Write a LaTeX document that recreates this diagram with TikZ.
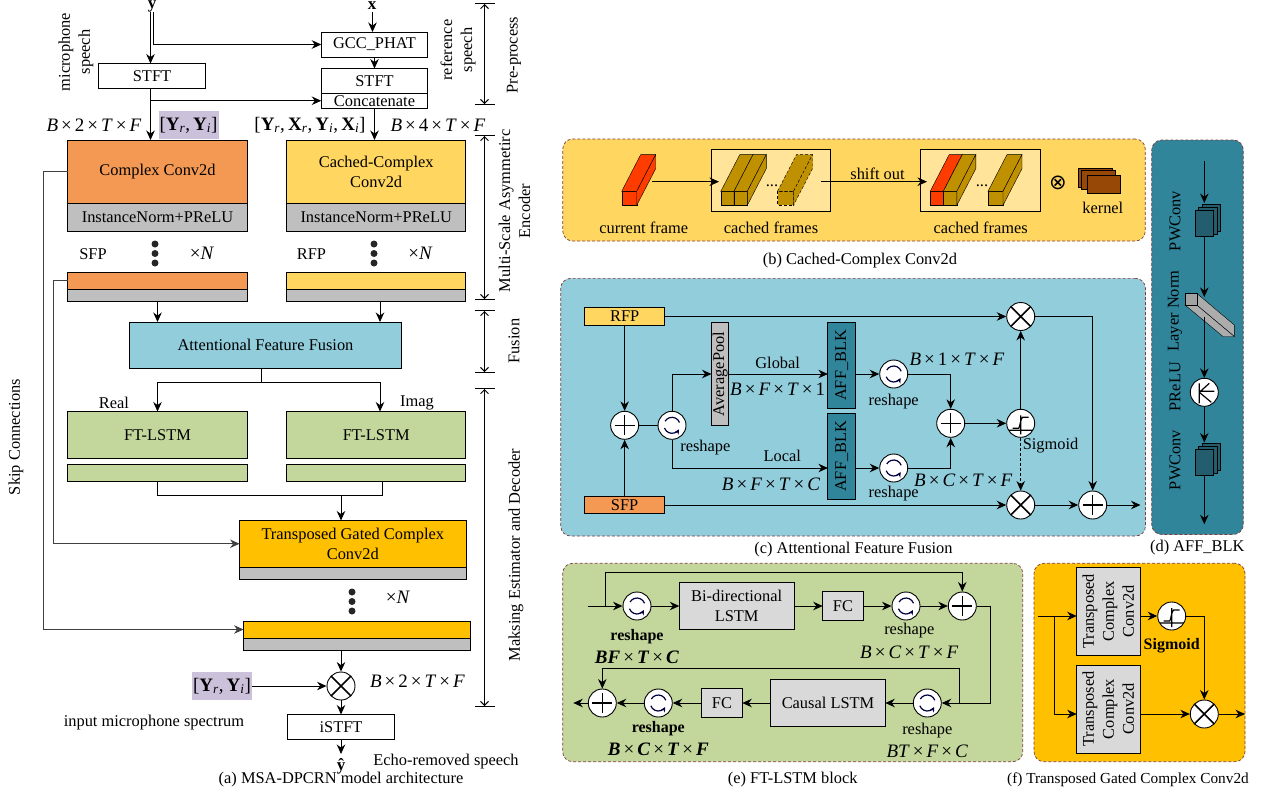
\documentclass[tikz,border=0pt]{standalone}
\usepackage{fontspec}
\setmainfont{Liberation Serif}
\newfontfamily\symfont{DejaVu Sans}
\definecolor{convorange}{RGB}{244,153,83}
\definecolor{convyellow}{RGB}{255,214,96}
\definecolor{convgold}{RGB}{255,192,0}
\definecolor{normgray}{RGB}{191,191,191}
\definecolor{lightgray}{RGB}{217,217,217}
\definecolor{fusionblue}{RGB}{146,205,220}
\definecolor{lstmgreen}{RGB}{195,214,155}
\definecolor{lavender}{RGB}{204,193,218}
\definecolor{aimteal}{RGB}{49,133,155}
\definecolor{deepteal}{RGB}{36,94,110}
\definecolor{cachepale}{RGB}{255,228,153}
\definecolor{cubegold}{RGB}{191,144,0}
\definecolor{cubered}{RGB}{255,60,0}
\definecolor{kernelbrown}{RGB}{151,72,7}
\definecolor{borderred}{RGB}{125,60,60}
\usetikzlibrary{arrows.meta}

\newcommand{\tm}{\hspace{.16em}×\hspace{.16em}}
\newcommand{\iv}[1]{\textit{#1}}
\newcommand{\bv}[2]{\textbf{#1}\textsubscript{\textit{#2}}}
\newcommand{\bi}[1]{\textbf{\textit{#1}}}
% one slanted frame: x, y of the front top left corner, width, colour
\newcommand{\framecube}[5][solid]{
  \filldraw[draw=black, fill=#5, #1] (#2,#3) rectangle ++(#4,14);
  \filldraw[draw=black, fill=#5, #1] (#2,#3) -- ++(19,-36.7) -- ++(#4,0) -- ++(-19,36.7) -- cycle;
  \filldraw[draw=black, fill=#5, #1] (#2+#4,#3) -- ++(19,-36.7) -- ++(0,14) -- ++(-19,36.7) -- cycle;
}
% pile of three feature maps behind a named front node
\newcommand{\mapstack}[2]{
  \filldraw[draw=black, fill=deepteal] (#1+6.7-9.2,#2-6-13.2) rectangle ++(18.4,26.4);
  \filldraw[draw=black, fill=deepteal] (#1+3.3-9.2,#2-3-13.2) rectangle ++(18.4,26.4);
}

\begin{document}
\begin{tikzpicture}[
  x=1pt, y=-1pt,
  font=\fontsize{16.4}{20}\selectfont,
  arrow/.style={-{Stealth[length=9.5pt,width=8.5pt]}, line width=.9pt},
  plain/.style={line width=.9pt},
  span/.style={{Bar[width=20pt]Straight Barb[length=4pt]}-{Straight Barb[length=4pt]Bar[width=20pt]}, line width=1pt},
  blockbox/.style={draw=black, line width=.9pt, inner sep=0pt, outer sep=0pt, align=center},
  wbox/.style={blockbox, fill=white, minimum width=106.5pt, minimum height=25pt},
  panel/.style={draw=borderred, densely dashed, line width=.7pt, rounded corners=10pt, inner sep=0pt},
  lbl/.style={inner sep=0pt, align=center},
  biglbl/.style={lbl, font=\fontsize{19}{22}\selectfont},
  spec/.style={biglbl, fill=lavender, minimum width=60pt, minimum height=27.5pt},
  vdot/.style={circle, fill=black!85, minimum size=7pt, inner sep=0pt},
  opcirc/.style={circle, draw=black, fill=white, line width=.9pt, minimum size=28pt, inner sep=0pt},
  plusop/.style={opcirc, path picture={\draw[shift={(path picture bounding box.center)}, line width=1.4pt] (-10,0) -- (10,0) (0,-10) -- (0,10);}},
  timesop/.style={opcirc, path picture={\draw[shift={(path picture bounding box.center)}, line width=1.6pt] (-10,-10) -- (10,10) (-10,10) -- (10,-10);}},
  shapeop/.style={opcirc, path picture={\draw[shift={(path picture bounding box.center)}, -{Stealth[length=5pt,width=5pt]}, line width=1.2pt, black!75!blue]
    (-20:8) arc[start angle=-20, delta angle=-130, radius=8]
    (160:8) arc[start angle=160, delta angle=-130, radius=8];}},
  sigop/.style={opcirc, path picture={\draw[shift={(path picture bounding box.center)}, line width=1.2pt]
    (-14,7) -- (14,7) (0,11) -- (0,-8) (-8,5) -- (-2,5) .. controls (-1,5) and (0,-6) .. (2,-6) -- (8,-6);}},
  preluop/.style={opcirc, path picture={\draw[shift={(path picture bounding box.center)}, line width=1.2pt]
    (-5,-9) -- (-5,11) (-5,-1) -- (10,-1) (-5,0) -- (5,-9) (-5,0) -- (7,10);}},
  ]
\useasboundingbox (0,0) rectangle (1262,796);

% (a) model
\node[lbl, font=\fontsize{17}{20}\selectfont\bfseries] (ymic) at (152,6.5) {y};
\node[lbl, font=\fontsize{17}{20}\selectfont\bfseries] (xref) at (372,5.5) {x};
\coordinate (ymicl) at (150.5,12);
\coordinate (ymicr) at (153.5,12);
\coordinate (xtop) at (372.5,12);
\node[wbox] (gcc) at (374.5,44.5) {GCC\_PHAT};
\node[wbox] (refstft) at (374.5,81) {STFT};
\node[wbox, minimum height=14.5pt] (concat) at (374.5,100.75) {Concatenate};
\node[wbox] (micstft) at (152,76) {STFT};
\node[lbl, rotate=90] (micspeech) at (76,52) {microphone\\speech};
\node[lbl, rotate=90] (refspeech) at (458,50) {reference\\speech};

\node[biglbl] (dimyin) at (94,125) {\iv{B}\tm2\tm\iv{T}\tm\iv{F}};
\node[spec] (yspec) at (188.5,125) {[\bv{Y}{r},\,\bv{Y}{i}]};
\node[biglbl] (yxspec) at (310,125) {[\bv{Y}{r},\,\bv{X}{r},\,\bv{Y}{i},\,\bv{X}{i}]};
\node[biglbl] (dimyx) at (438,125) {\iv{B}\tm4\tm\iv{T}\tm\iv{F}};

\node[blockbox, fill=convorange, minimum width=179.4pt, minimum height=63pt] (cplx) at (157.5,171.5) {Complex Conv2d};
\node[blockbox, fill=normgray, minimum width=179.4pt, minimum height=28pt] (cplxnorm) at (157.5,217) {InstanceNorm+PReLU};
\node[blockbox, fill=convyellow, minimum width=179.4pt, minimum height=63pt] (cached) at (376.2,171.5) {Cached-Complex\\Conv2d};
\node[blockbox, fill=normgray, minimum width=179.4pt, minimum height=28pt] (cachednorm) at (376.2,217) {InstanceNorm+PReLU};

\node[vdot] (da1) at (155,244) {};
\node[vdot] (da2) at (155,253.5) {};
\node[vdot] (da3) at (155,263) {};
\node[vdot] (db1) at (374,244) {};
\node[vdot] (db2) at (374,253.5) {};
\node[vdot] (db3) at (374,263) {};
\node[lbl] (sfplab) at (93,254) {SFP};
\node[lbl] (rfplab) at (311.5,254) {RFP};
\node[biglbl] (na) at (202,253) {×\iv{N}};
\node[biglbl] (nb) at (420.5,253) {×\iv{N}};

\node[blockbox, fill=convorange, minimum width=179.4pt, minimum height=17pt] (sfpbar) at (157.5,280.5) {};
\node[blockbox, fill=normgray, minimum width=179.4pt, minimum height=12pt] (sfpnorm) at (157.5,295) {};
\node[blockbox, fill=convyellow, minimum width=179.4pt, minimum height=17pt] (rfpbar) at (376.2,280.5) {};
\node[blockbox, fill=normgray, minimum width=179.4pt, minimum height=12pt] (rfpnorm) at (376.2,295) {};

\node[blockbox, fill=fusionblue, minimum width=272.5pt, minimum height=46.5pt] (fusion) at (265.5,345.25) {Attentional Feature Fusion};
\node[lbl] (reallab) at (114,403) {Real};
\node[lbl] (imaglab) at (417,403) {Imag};
\node[blockbox, fill=lstmgreen, minimum width=179.4pt, minimum height=47pt] (lstma) at (157.5,435) {FT-LSTM};
\node[blockbox, fill=lstmgreen, minimum width=179.4pt, minimum height=47pt] (lstmb) at (376.2,435) {FT-LSTM};
\node[blockbox, fill=lstmgreen, minimum width=179.4pt, minimum height=17pt] (lstmabar) at (157.5,473) {};
\node[blockbox, fill=lstmgreen, minimum width=179.4pt, minimum height=17pt] (lstmbbar) at (376.2,473) {};

\node[blockbox, fill=convgold, minimum width=226.5pt, minimum height=46.5pt] (tgcc) at (352.8,543.75) {Transposed Gated Complex\\Conv2d};
\node[blockbox, fill=normgray, minimum width=226.5pt, minimum height=12pt] (tgccnorm) at (352.8,573) {};
\node[vdot] (dc1) at (352,592) {};
\node[vdot] (dc2) at (352,601.5) {};
\node[vdot] (dc3) at (352,611) {};
\node[biglbl] (nc) at (398,597) {×\iv{N}};
\node[blockbox, fill=convgold, minimum width=226.5pt, minimum height=17pt] (decbar) at (356.8,629.5) {};
\node[blockbox, fill=normgray, minimum width=226.5pt, minimum height=12pt] (decnorm) at (356.8,644) {};

\node[timesop] (mask) at (341,686) {};
\node[spec] (yspecb) at (222,686) {[\bv{Y}{r},\,\bv{Y}{i}]};
\node[biglbl] (dimout) at (417.5,681) {\iv{B}\tm2\tm\iv{T}\tm\iv{F}};
\node[lbl] (inputlab) at (154,723) {input microphone spectrum};
\node[wbox] (istft) at (341,727) {iSTFT};
\node[lbl, font=\fontsize{17}{20}\selectfont\bfseries] (yhat) at (341,766) {ŷ};
\node[lbl] (echolab) at (446,762) {Echo-removed speech};
\node[lbl] (capa) at (341,780) {(a) MSA-DPCRN model architecture};

\draw[arrow] (ymicl) -- (ymicl |- micstft.north);
\draw[arrow] (ymicr) |- (gcc.west);
\draw[arrow] (xtop) -- (xtop |- gcc.north);
\draw[arrow] (gcc.south) -- (refstft.north);
\coordinate (micdown) at (150.5,88.5);
\draw[arrow] (micdown) -- (micdown |- cplx.north);
\coordinate (micbr) at (150.5,100.75);
\draw[arrow] (micbr) -- (concat.west);
\draw[arrow] (concat.south) -- (concat.south |- cached.north);
\coordinate (skipa) at (43.4,629.5);
\coordinate (skipb) at (53,543.75);
\draw[plain, black!75] (cplx.west) -| (skipa);
\draw[arrow, black!75] (skipa) -- (decbar.west);
\draw[plain, black!75] (sfpbar.west) -| (skipb);
\draw[arrow, black!75] (skipb) -- (tgcc.west);
\node[lbl, rotate=90] (skiplab) at (16,437) {Skip Connections};
\draw[arrow] (sfpnorm.south) -- (sfpnorm.south |- fusion.north);
\coordinate (rfpdown) at (380,301);
\draw[arrow] (rfpdown) -- (rfpdown |- fusion.north);
\coordinate (fusbr) at (261,382.7);
\draw[plain] (fusbr |- fusion.south) -- (fusbr);
\draw[arrow] (fusbr) -| (lstma.north);
\coordinate (fusbrb) at (380,411.5);
\draw[arrow] (fusbr) -| (fusbrb);
\coordinate (merge) at (341,495.7);
\coordinate (mergeb) at (382,481.5);
\draw[plain] (lstmabar.south) |- (merge);
\draw[plain] (mergeb) |- (merge);
\draw[arrow] (merge) -- (merge |- tgcc.north);
\draw[arrow] (decnorm.south -| mask.north) -- (mask.north);
\draw[arrow] (yspecb.east) -- (mask.west);
\draw[arrow] (mask.south) -- (istft.north);
\coordinate (yout) at (341,754);
\draw[arrow] (istft.south) -- (yout);

% spans on the right
\coordinate (spa) at (484.5,3);
\coordinate (spb) at (484.5,105);
\coordinate (spc) at (484.5,135);
\coordinate (spd) at (484.5,300);
\coordinate (spe) at (484.5,310);
\coordinate (spf) at (484.5,373);
\coordinate (spg) at (484.5,388);
\coordinate (sph) at (484.5,707);
\draw[span] (spa) -- (spb);
\draw[span] (spc) -- (spd);
\draw[span] (spe) -- (spf);
\draw[span] (spg) -- (sph);
\node[lbl, rotate=90] (prelab) at (514,55) {Pre-process};
\node[lbl, rotate=90] (enclab) at (514.5,211) {Multi-Scale Asymmetirc\\Encoder};
\node[lbl, rotate=90] (fuslab) at (514,341) {Fusion};
\node[lbl, rotate=90] (declab) at (516,555) {Maksing Estimator and Decoder};

% (b) cached conv
\node[panel, fill=convyellow, minimum width=582.5pt, minimum height=102pt] (panelb) at (854,190) {};
\node[blockbox, fill=cachepale, minimum width=119.4pt, minimum height=61.7pt] (cachea) at (771,180.2) {};
\node[blockbox, fill=cachepale, minimum width=119.8pt, minimum height=61.7pt] (cacheb) at (980.7,180.2) {};
\framecube{621.7}{191.3}{15}{cubered}
\framecube{720.8}{191.3}{13.3}{cubegold}
\framecube{734}{191.3}{13.3}{cubegold}
\framecube[densely dashed]{777.5}{191.3}{16}{cubegold}
\node[lbl] (dotsa) at (772,186) {...};
\framecube{930.2}{191.3}{13.1}{cubered}
\framecube{943.3}{191.3}{13.5}{cubegold}
\framecube{988}{191.3}{15}{cubegold}
\node[lbl] (dotsb) at (982,186) {...};
\coordinate (curout) at (652,181.7);
\coordinate (cachein) at (719,181.7);
\draw[arrow] (curout) -- (cachein);
\coordinate (shiftout) at (821,181.7);
\coordinate (shiftin) at (927,181.7);
\draw[arrow] (shiftout) -- (shiftin);
\node[lbl] (shiftlab) at (877.5,174) {shift out};
\node[lbl, font=\fontsize{21}{24}\selectfont\symfont] (conv) at (1058,182.5) {⊗};
\filldraw[draw=black, fill=kernelbrown] (1078.4,168.3) rectangle (1112,187);
\filldraw[draw=black, fill=kernelbrown] (1081.5,170.5) rectangle (1115,189);
\filldraw[draw=black, fill=kernelbrown] (1086.7,175) rectangle (1120,193.3);
\node[lbl] (kernlab) at (1102.8,208) {kernel};
\node[lbl] (curlab) at (643.7,228) {current frame};
\node[lbl] (cachelaba) at (771,228) {cached frames};
\node[lbl] (cachelabb) at (980.7,228) {cached frames};
\node[lbl] (capb) at (860,261) {(b) Cached-Complex Conv2d};

% (c) fusion
\node[panel, fill=fusionblue, minimum width=584.8pt, minimum height=257.7pt] (panelc) at (853.1,407.2) {};
\node[blockbox, fill=convyellow, minimum width=80.3pt, minimum height=17.6pt] (rfp) at (624.65,316.5) {RFP};
\node[blockbox, fill=convorange, minimum width=80.3pt, minimum height=17.6pt] (sfp) at (624.65,505) {SFP};
\node[plusop] (addin) at (624.65,425.3) {};
\node[shapeop] (rsc) at (672,425.3) {};
\node[lbl] (rsclab) at (705.4,448) {reshape};
\node[blockbox, fill=normgray, minimum width=17.2pt, minimum height=102.6pt] (avg) at (720.1,374) {};
\node[lbl, rotate=90] (avglab) at (avg.center) {AveragePool};
\node[blockbox, fill=aimteal, minimum width=27.9pt, minimum height=85.3pt] (affa) at (841.85,365.35) {};
\node[lbl, rotate=90] (affalab) at (affa.center) {AFF\_BLK};
\node[blockbox, fill=aimteal, minimum width=27.9pt, minimum height=85.3pt] (affb) at (841.85,456.35) {};
\node[lbl, rotate=90] (affblab) at (affb.center) {AFF\_BLK};
\node[lbl] (globlab) at (777.7,362.7) {Global};
\node[biglbl] (dimg) at (777.7,389) {\iv{B}\tm\iv{F}\tm\iv{T}\tm1};
\node[lbl] (loclab) at (782.3,456) {Local};
\node[biglbl] (diml) at (771,484) {\iv{B}\tm\iv{F}\tm\iv{T}\tm\iv{C}};
\node[shapeop] (rsg) at (893.7,374) {};
\node[shapeop] (rsl) at (893.7,468) {};
\node[lbl] (rsglab) at (893.7,402) {reshape};
\node[lbl] (rsllab) at (893.7,494) {reshape};
\node[biglbl] (dimrg) at (957,359) {\iv{B}\tm1\tm\iv{T}\tm\iv{F}};
\node[biglbl] (dimrl) at (963.3,480.7) {\iv{B}\tm\iv{C}\tm\iv{T}\tm\iv{F}};
\node[plusop] (addmid) at (950.7,423.3) {};
\node[sigop] (sigc) at (1020.7,423.3) {};
\node[lbl] (siglab) at (1050.6,446) {Sigmoid};
\node[timesop] (mula) at (1020.7,316.5) {};
\node[timesop] (mulb) at (1020.7,505) {};
\node[plusop] (addout) at (1092.7,505) {};
\coordinate (affout) at (1140.5,505);
\draw[arrow] (rfp.south) -- (addin.north);
\draw[arrow] (sfp.north) -- (addin.south);
\draw[plain] (addin.east) -- (rsc.west);
\draw[arrow] (rsc.north) |- (avg.west);
\draw[arrow] (rsc.south) |- (affb.west |- rsl);
\draw[arrow] (avg.east) -- (avg.east -| affa.west);
\draw[arrow] (affa.east |- rsg) -- (rsg.west);
\draw[arrow] (affb.east |- rsl) -- (rsl.west);
\draw[arrow] (rsg.east) -| (addmid.north);
\draw[arrow] (rsl.east) -| (addmid.south);
\draw[arrow] (addmid.east) -- (sigc.west);
\draw[arrow] (sigc.north) -- (mula.south);
\draw[arrow, densely dashed] (sigc.south) -- (mulb.north);
\draw[arrow] (rfp.east) -- (mula.west);
\draw[arrow] (sfp.east) -- (mulb.west);
\draw[arrow] (mula.east) -| (addout.north);
\draw[arrow] (mulb.east) -- (addout.west);
\draw[arrow] (addout.east) -- (affout);
\node[lbl] (capc) at (853.5,550) {(c) Attentional Feature Fusion};

% (d) block
\node[panel, fill=aimteal, minimum width=91.6pt, minimum height=394.5pt] (paneld) at (1197.5,337.25) {};
\coordinate (dtop) at (1204.3,161);
\coordinate (dpwin) at (1204.3,203);
\draw[arrow] (dtop) -- (dpwin);
\mapstack{1204.3}{223.5}
\node[blockbox, fill=deepteal, minimum width=18.4pt, minimum height=26.4pt] (pwa) at (1204.3,223.5) {};
\coordinate (lnin) at (1204.3,297);
\coordinate (lnout) at (1204.3,316.7);
\filldraw[draw=black, fill=normgray!90!black] (1196.7,293.3) -- (1234.3,325) -- (1234.3,336.5) -- (1196.7,305) -- cycle;
\filldraw[draw=black, fill=normgray!90!black] (1185,305) -- (1196.7,305) -- (1234.3,336.5) -- (1223,336.5) -- cycle;
\filldraw[draw=black, fill=normgray!85!black] (1185,293.3) rectangle (1196.7,305);
\draw[arrow] (pwa.south) -- (lnin);
\node[preluop] (preluc) at (1204.3,392.3) {};
\draw[arrow] (lnout) -- (preluc.north);
\coordinate (dpwinb) at (1204.3,442.5);
\draw[arrow] (preluc.south) -- (dpwinb);
\mapstack{1204.3}{462.6}
\node[blockbox, fill=deepteal, minimum width=18.4pt, minimum height=26.4pt] (pwb) at (1204.3,462.6) {};
\coordinate (dout) at (1204.3,524.3);
\draw[arrow] (pwb.south) -- (dout);
\node[lbl, rotate=90] (pwalab) at (1175,221) {PWConv};
\node[lbl, rotate=90] (lnlab) at (1175,311) {Layer Norm};
\node[lbl, rotate=90] (prlab) at (1175,386.7) {PReLU};
\node[lbl, rotate=90] (pwblab) at (1175,460) {PWConv};
\node[lbl] (capd) at (1197.3,548) {(d) AFF\_BLK};

% (e) lstm
\node[panel, fill=lstmgreen, minimum width=460pt, minimum height=198.4pt] (panele) at (792.7,662.5) {};
\coordinate (ein) at (587.7,606);
\coordinate (einbr) at (605.7,606);
\coordinate (etop) at (962.3,572.3);
\node[shapeop] (rsea) at (637,606) {};
\node[blockbox, fill=lightgray, minimum width=114.7pt, minimum height=46.7pt] (bilstm) at (736.65,606) {Bi-directional\\LSTM};
\node[blockbox, fill=lightgray, minimum width=40.6pt, minimum height=29.3pt] (fca) at (843,606) {FC};
\node[shapeop] (rseb) at (906,606) {};
\node[plusop] (adde) at (962.3,606) {};
\coordinate (eturn) at (990.7,703);
\coordinate (ebr) at (959,703);
\coordinate (eup) at (602.3,668.3);
\node[shapeop] (rsec) at (927.3,703) {};
\node[blockbox, fill=lightgray, minimum width=114.6pt, minimum height=46.6pt] (causal) at (828,703) {Causal LSTM};
\node[blockbox, fill=lightgray, minimum width=40.6pt, minimum height=29pt] (fcb) at (722,703) {FC};
\node[shapeop] (rsed) at (658.3,703) {};
\node[plusop] (addf) at (602.3,703) {};
\coordinate (eout) at (573.3,703);
\draw[arrow] (ein) -- (rsea.west);
\draw[arrow] (einbr) |- (etop) -- (adde.north);
\draw[arrow] (rsea.east) -- (bilstm.west);
\draw[arrow] (bilstm.east) -- (fca.west);
\draw[arrow] (fca.east) -- (rseb.west);
\draw[arrow] (rseb.east) -- (adde.west);
\draw[arrow] (adde.east) -| (eturn) -- (rsec.east);
\draw[arrow] (ebr) |- (eup) -- (addf.north);
\draw[arrow] (rsec.west) -- (causal.east);
\draw[arrow] (causal.west) -- (fcb.east);
\draw[arrow] (fcb.west) -- (rsed.east);
\draw[arrow] (rsed.west) -- (addf.east);
\draw[arrow] (addf.west) -- (eout);
\node[lbl, font=\fontsize{16}{20}\selectfont\bfseries] (rsealab) at (637,637) {reshape};
\node[biglbl] (dimea) at (637,657) {\bi{BF}\tm\bi{T}\tm\bi{C}};
\node[lbl] (rseblab) at (909.3,631) {reshape};
\node[biglbl] (dimeb) at (909.3,652.3) {\iv{B}\tm\iv{C}\tm\iv{T}\tm\iv{F}};
\node[lbl, font=\fontsize{16}{20}\selectfont\bfseries] (rsedlab) at (658.3,729) {reshape};
\node[biglbl] (dimed) at (658.3,749) {\bi{B}\tm\bi{C}\tm\bi{T}\tm\bi{F}};
\node[lbl] (rseclab) at (927.3,731) {reshape};
\node[biglbl] (dimec) at (927.3,751.7) {\iv{BT}\tm\iv{F}\tm\iv{C}};
\node[lbl] (cape) at (792.7,780) {(e) FT-LSTM block};

% (f) gated conv
\node[panel, fill=convgold, minimum width=211pt, minimum height=198.4pt] (panelf) at (1139.5,662.5) {};
\node[blockbox, fill=lightgray, minimum width=63.3pt, minimum height=87.3pt] (tca) at (1108.35,611.35) {};
\node[lbl, rotate=90] (tcalab) at (tca.center) {Transposed\\Complex\\Conv2d};
\node[blockbox, fill=lightgray, minimum width=63.3pt, minimum height=88pt] (tcb) at (1108.35,709) {};
\node[lbl, rotate=90] (tcblab) at (tcb.center) {Transposed\\Complex\\Conv2d};
\node[sigop] (sigf) at (1171.7,616) {};
\node[lbl, font=\fontsize{16}{20}\selectfont\bfseries] (sigflab) at (1171.7,645.7) {Sigmoid};
\node[timesop] (mulf) at (1204.3,714) {};
\coordinate (fin) at (1038.3,616);
\coordinate (fbr) at (1054.3,616);
\coordinate (fout) at (1245,714);
\draw[arrow] (fin) -- (fin -| tca.west);
\draw[arrow] (fbr) |- (tcb.west |- mulf);
\draw[arrow] (tca.east |- sigf) -- (sigf.west);
\draw[arrow] (sigf.east) -| (mulf.north);
\draw[arrow] (tcb.east |- mulf) -- (mulf.west);
\draw[arrow] (mulf.east) -- (fout);
\node[lbl, font=\fontsize{15.3}{20}\selectfont] (capf) at (1128,780) {(f) Transposed Gated Complex Conv2d};
\end{tikzpicture}
\end{document}
